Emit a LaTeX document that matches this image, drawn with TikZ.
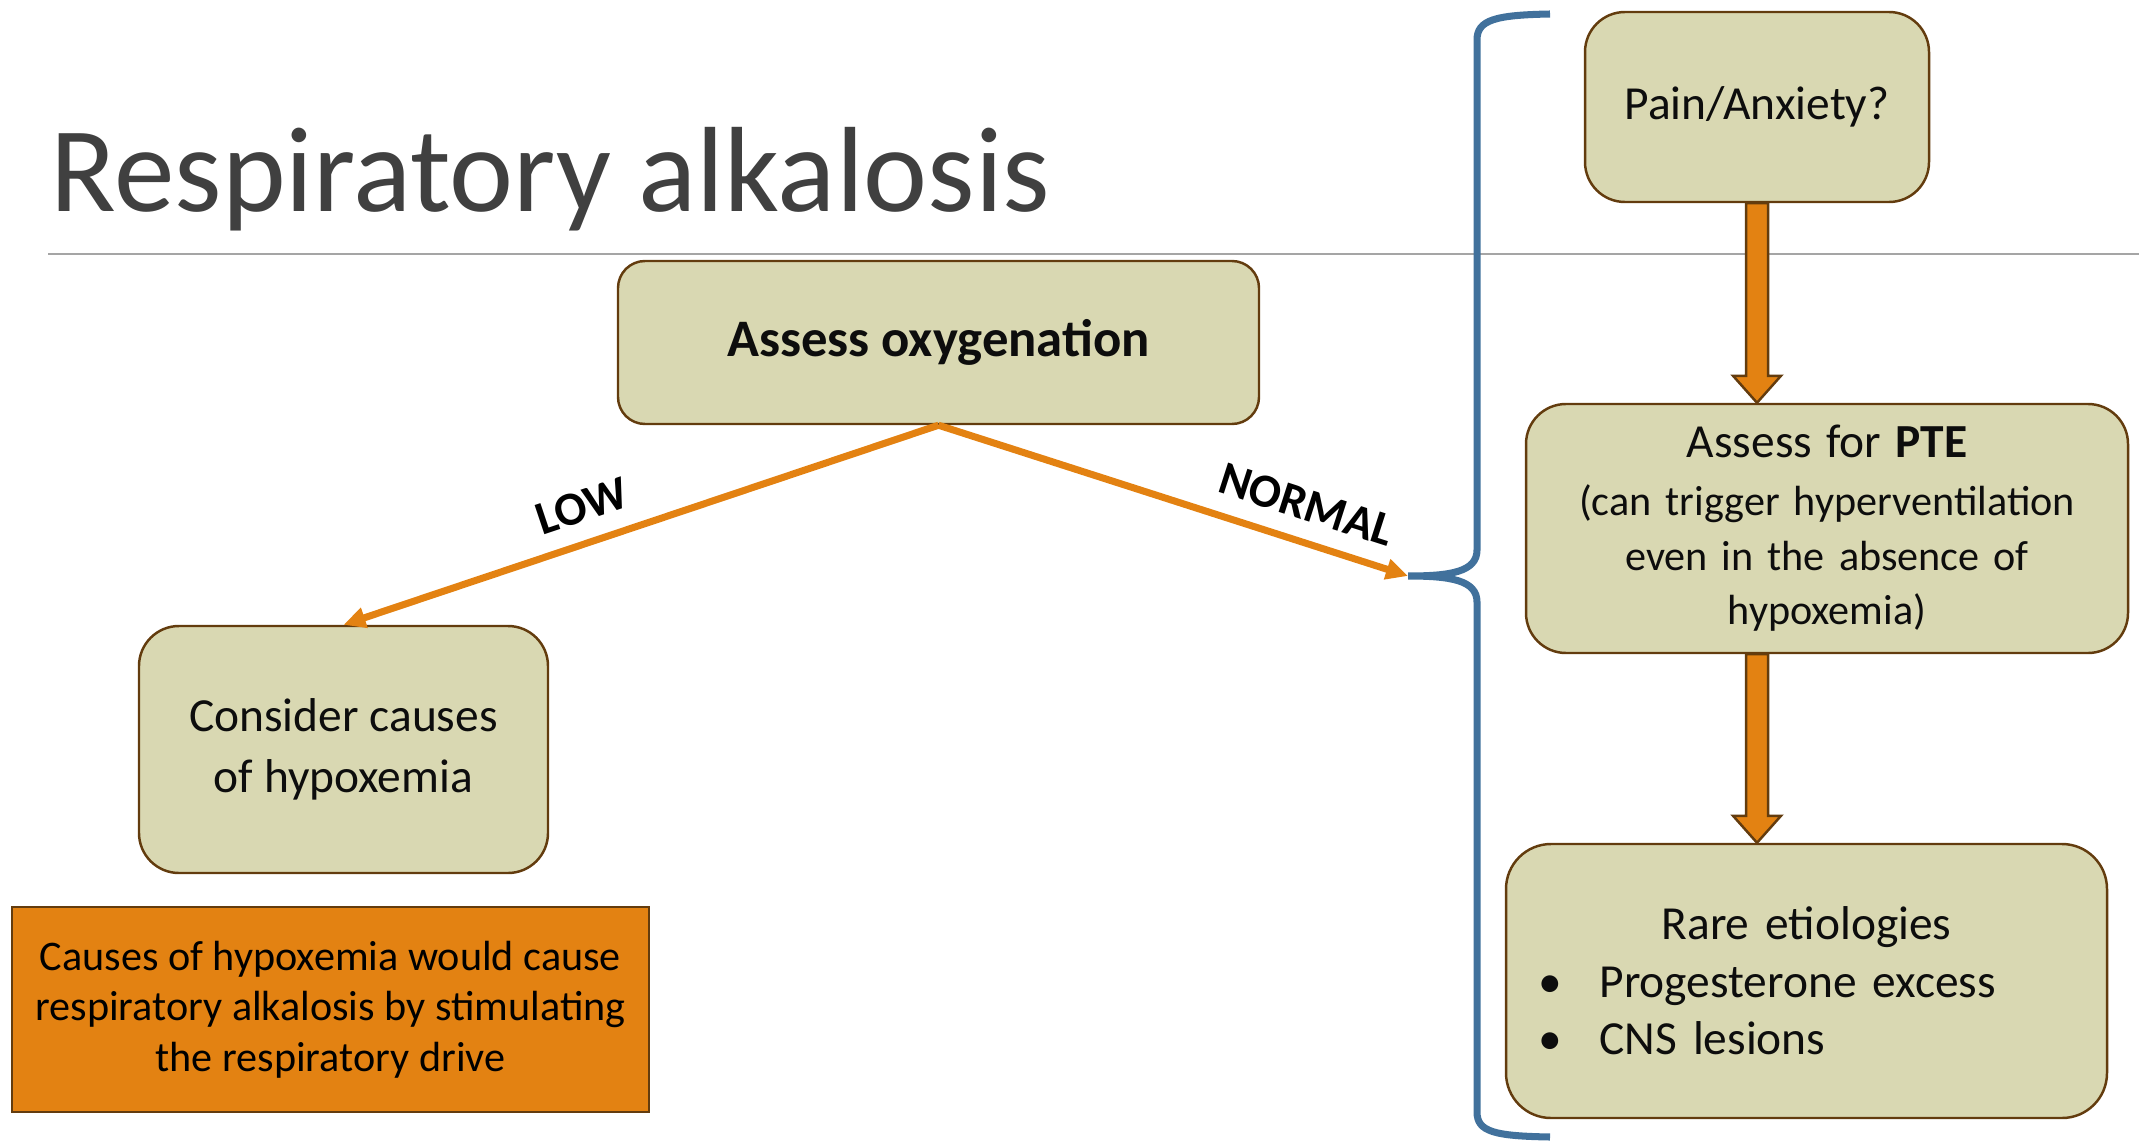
\documentclass[tikz,border=0pt]{standalone}
\usepackage{fontspec}
\setmainfont{Carlito}
\usetikzlibrary{arrows.meta, positioning, calc}
\definecolor{BoxFill}{RGB}{217,216,178}
\definecolor{BoxLine}{RGB}{99,60,14}
\definecolor{Org}{RGB}{227,130,18}
\definecolor{BrBlue}{RGB}{65,113,156}
\definecolor{TitleGr}{RGB}{64,64,64}
\definecolor{RuleGr}{RGB}{165,165,165}
\setlength{\parindent}{0pt}
\hyphenpenalty=10000

\begin{document}
\begin{tikzpicture}[
  rbox/.style={draw=BoxLine, fill=BoxFill, line width=0.7pt, rounded corners=#1,
               align=center, inner sep=0pt, text=black!95,
               font=\fontsize{13.5}{16.4}\selectfont},
  obox/.style={draw=BoxLine, fill=Org, line width=0.7pt, align=center,
               inner sep=0pt, font=\fontsize{12}{14.4}\selectfont},
  thinarr/.style={-{Triangle[length=0.22cm, width=0.2cm]}, line width=2pt, draw=Org},
  blk/.style={draw=BoxLine, fill=Org, line width=0.7pt},
  lbl/.style={font=\bfseries\fontsize{13.5}{16}\selectfont, inner sep=1pt},
  brace/.style={draw=BrBlue, line width=2pt}
]
\useasboundingbox (0,0) rectangle (21.39,11.42);

% title and rule
\node[anchor=base west, text=TitleGr, font=\fontsize{34.5}{40}\selectfont, inner sep=0pt]
  (title) at (0.50, 9.31) {Respiratory alkalosis};
\draw[RuleGr, line width=0.5pt] (0.48, 8.88) -- (21.39, 8.88);

% left branch
\node[rbox=0.27cm, minimum width=6.41cm, minimum height=1.63cm,
      font=\bfseries\fontsize{15}{18}\selectfont] (assess) at (9.385, 7.995) {Assess oxygenation};
\node[rbox=0.4cm, minimum width=4.09cm, minimum height=2.47cm] (consider) at (3.435, 3.925)
  {Consider causes\\[1pt] of hypoxemia};
\node[obox, minimum width=6.37cm, minimum height=2.05cm] (note) at (3.305, 1.325)
  {Causes of hypoxemia would cause\\ respiratory alkalosis by stimulating\\ the respiratory drive};

% right column
\node[rbox=0.4cm, minimum width=3.44cm, minimum height=1.90cm] (pain) at (17.57, 10.35) {Pain/Anxiety?};
\node[rbox=0.4cm, minimum width=6.02cm, minimum height=2.49cm, text width=5.9cm,
      font=\fontsize{12}{15.5}\selectfont] (pte) at (18.27, 6.135)
  {{\fontsize{13.5}{16}\selectfont Assess for \textbf{PTE}}\\[1pt]
   (can trigger hyperventilation\\ even in the absence of\\ hypoxemia)};
\node[rbox=0.45cm, minimum width=6.01cm, minimum height=2.74cm, text width=5.7cm, align=left]
  (rare) at (18.065, 1.61)
  {{\centering Rare etiologies\par}
   \hspace*{0.17cm}\makebox[0.61cm][l]{\textbullet}Progesterone excess\par
   \hspace*{0.17cm}\makebox[0.61cm][l]{\textbullet}CNS lesions};

% brace
\coordinate (tip) at (14.08, 5.66);
\draw[brace] (15.50, 11.28) .. controls (14.95, 11.27) and (14.77, 11.22) .. (14.77, 11.02)
  -- (14.77, 5.92) .. controls (14.77, 5.70) and (14.50, 5.66) .. (tip)
  .. controls (14.50, 5.66) and (14.77, 5.62) .. (14.77, 5.40)
  -- (14.77, 0.30) .. controls (14.77, 0.10) and (14.95, 0.06) .. (15.50, 0.05);

% branch arrows
\draw[thinarr] (assess.south) -- node[lbl, pos=0.58, above=4pt, sloped] {LOW} (consider.north);
\draw[thinarr] (assess.south) -- node[lbl, pos=0.76, above=4pt, sloped] {NORMAL} (tip);

% block arrows
\coordinate (a1) at (pain.south);
\coordinate (a2) at (pain.south |- pte.north);
\coordinate (b1) at (pain.south |- pte.south);
\coordinate (b2) at (pain.south |- rare.north);
\draw[blk] ($(a1)+(-0.11,0)$) -- ($(a2)+(-0.11,0.27)$) -- ($(a2)+(-0.24,0.27)$) -- (a2)
  -- ($(a2)+(0.24,0.27)$) -- ($(a2)+(0.11,0.27)$) -- ($(a1)+(0.11,0)$) -- cycle;
\draw[blk] ($(b1)+(-0.11,0)$) -- ($(b2)+(-0.11,0.27)$) -- ($(b2)+(-0.24,0.27)$) -- (b2)
  -- ($(b2)+(0.24,0.27)$) -- ($(b2)+(0.11,0.27)$) -- ($(b1)+(0.11,0)$) -- cycle;
\end{tikzpicture}
\end{document}
